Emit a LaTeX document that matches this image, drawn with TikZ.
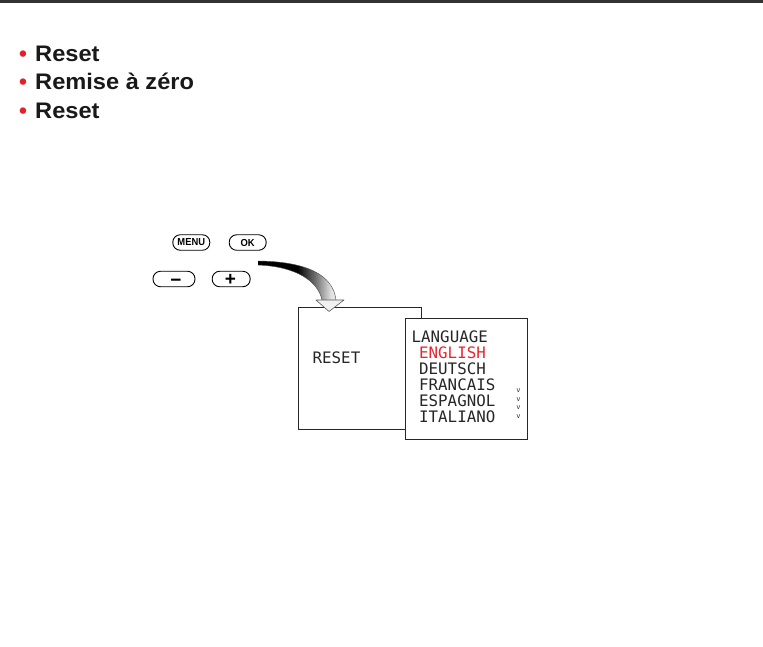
\documentclass[tikz,border=0pt]{standalone}
\usepackage{fontspec}
\setmainfont{Liberation Sans}
\newfontfamily\lcdfont{DejaVu Sans Mono}
\definecolor{bred}{HTML}{E4202A}
\definecolor{lcdred}{HTML}{E8262E}
\newcommand{\btnlabel}[1]{\scalebox{0.92}[1]{\fontsize{10.2}{11}\selectfont\bfseries #1}}
\newcommand{\headtext}[1]{\scalebox{1.05}[1]{#1}}
\pgfdeclarehorizontalshading{arrowshade}{100bp}{color(0bp)=(black); color(25bp)=(black); color(50bp)=(black); color(62bp)=(black!55); color(72bp)=(gray!22); color(100bp)=(gray!22)}
\begin{document}
\begin{tikzpicture}[x=1pt,y=-1pt,
  bulletline/.style={anchor=base west, inner sep=0pt, text=black!90, font=\fontsize{22.5}{27}\selectfont\bfseries},
  bulletdot/.style={anchor=base west, inner sep=0pt, text=bred, font=\fontsize{22.5}{27}\selectfont\bfseries},
  pill/.style={draw, line width=0.9pt, rounded corners=7.5pt, minimum height=15.5pt, inner sep=0pt},
  symtext/.style={anchor=base, inner sep=0pt, font=\fontsize{19}{19}\selectfont\bfseries},
  screen/.style={draw=black!85, line width=0.8pt, anchor=north west, inner sep=0pt},
  lcd/.style={anchor=base west, inner sep=0pt, font=\fontsize{15.8}{16}\selectfont\lcdfont, text=black!85},
  scrollv/.style={inner sep=0pt, font=\fontsize{7}{7}\selectfont\lcdfont, text=black!80}]
\useasboundingbox (0,0) rectangle (763,646);
% top rule
\draw[line width=3pt, black!80] (0,1.5) -- (763,1.5);
% bullet lines
\node[bulletdot] (b1) at (19,61) {•};
\node[bulletdot] (b2) at (19,89.5) {•};
\node[bulletdot] (b3) at (19,118) {•};
\node[bulletline] (l1) at (35,61) {\headtext{Reset}};
\node[bulletline] (l2) at (35,89.5) {\headtext{Remise à zéro}};
\node[bulletline] (l3) at (35,118) {\headtext{Reset}};
% buttons
\node[pill, minimum width=37pt] (menu) at (191.3,242.5) {\btnlabel{MENU}};
\node[pill, minimum width=37pt] (ok) at (247.7,242.5) {\btnlabel{OK}};
\node[pill, minimum width=42pt] (minus) at (174,279) {};
\node[pill, minimum width=38pt] (plus) at (231.2,279) {};
\node[symtext] (minussym) at (176,286.5) {−};
\node[symtext] (plussym) at (230.5,285.7) {+};
% screens
\node[screen, minimum width=123pt, minimum height=122pt] (resetbox) at (298,307) {};
\node[lcd] (resettxt) at (312.5,363) {RESET};
\node[screen, fill=white, minimum width=122pt, minimum height=121pt] (langbox) at (405,318) {};
\node[lcd] (t0) at (411.5,342.5) {LANGUAGE};
\node[lcd, text=lcdred] (t1) at (419,358) {ENGLISH};
\node[lcd] (t2) at (419,374) {DEUTSCH};
\node[lcd] (t3) at (419,390) {FRANCAIS};
\node[lcd] (t4) at (419,406) {ESPAGNOL};
\node[lcd] (t5) at (419,422) {ITALIANO};
\foreach \i/\yy in {1/391,2/399.5,3/408,4/416.5}
  \node[scrollv] (v\i) at (518.5,\yy) {v};
% curved arrow
\coordinate (atip) at (329,311.5);
\shade[shading=arrowshade]
  (258,261) .. controls (305,261.5) and (333,274) .. (336,300)
  -- (322,300) .. controls (318,281) and (296,266.5) .. (258,265) -- cycle;
\draw[line width=0.4pt, black!70]
  (258,261) .. controls (305,261.5) and (333,274) .. (336,300)
  (322,300) .. controls (318,281) and (296,266.5) .. (258,265);
\filldraw[fill=gray!12, draw=black!65, line width=0.6pt, line join=round]
  (316,300) -- (344,300) -- (atip) -- cycle;
\end{tikzpicture}
\end{document}
